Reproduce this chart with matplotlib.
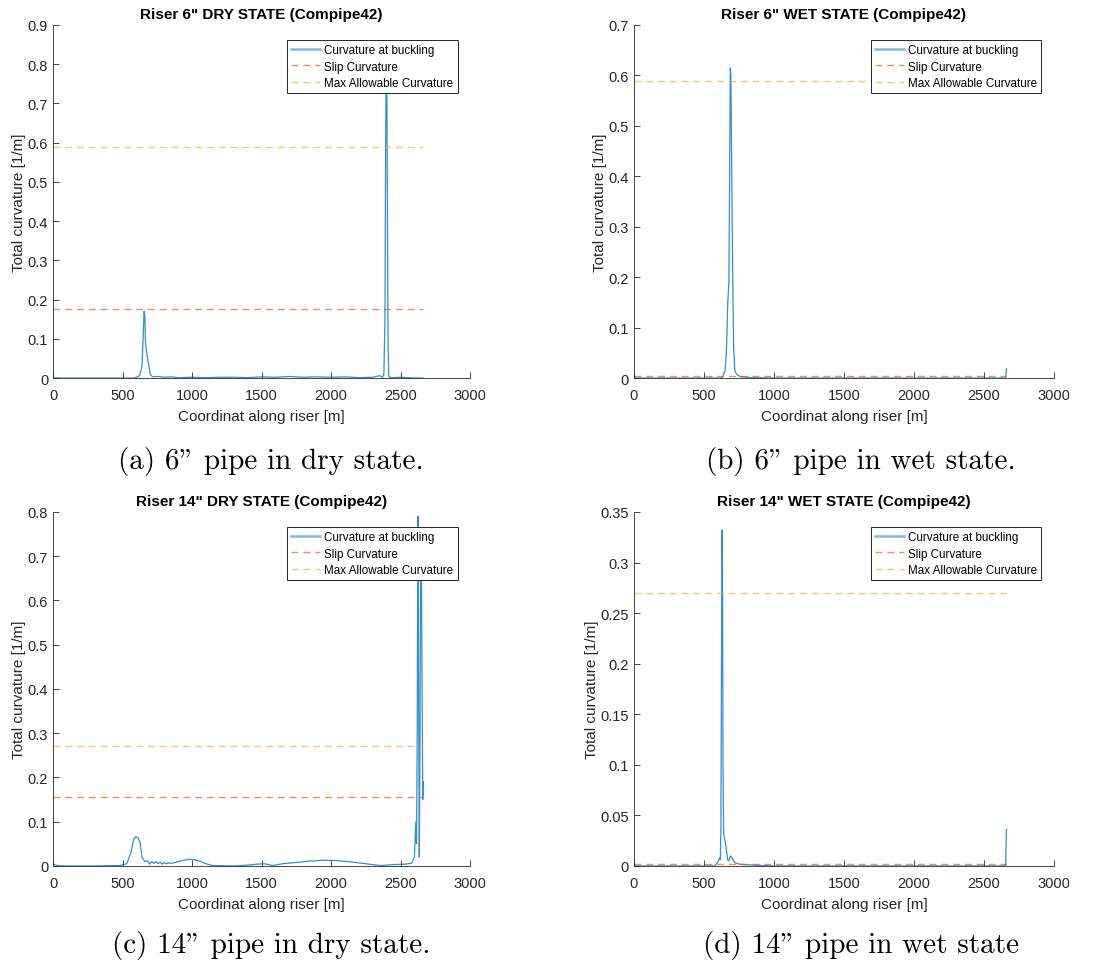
import matplotlib
matplotlib.use("Agg")
import matplotlib.pyplot as plt
from matplotlib.ticker import FuncFormatter

plt.rcParams['font.family'] = ['Liberation Sans', 'DejaVu Sans']

legend_labels = ['Curvature at buckling', 'Slip Curvature', 'Max Allowable Curvature']
xlabel = 'Coordinat along riser [m]'
ylabel = 'Total curvature [1/m]'
riser_end = 2660

# (a) 6" dry
title_a = 'Riser 6" DRY STATE (Compipe42)'
x_a = [0, 580, 610, 625, 640, 648, 655, 660, 665, 672, 680, 690, 700, 710, 720, 760, 800,
       850, 900, 1000, 1100, 1200, 1300, 1400, 1500, 1600, 1700, 1800, 1900, 2000, 2100,
       2200, 2300, 2350, 2370, 2380, 2388, 2393, 2397, 2400, 2405, 2410, 2415, 2420, 2450,
       2500, 2560, 2600, 2660]
y_a = [0, 0, 0.003, 0.008, 0.03, 0.10, 0.17, 0.16, 0.09, 0.07, 0.05, 0.03, 0.01, 0.005,
       0.003, 0.004, 0.002, 0.003, 0.001, 0.002, 0.001, 0.002, 0.002, 0.001, 0.003, 0.002,
       0.004, 0.002, 0.003, 0.002, 0.003, 0.001, 0.002, 0.006, 0.002, 0.01, 0.15, 0.6, 0.82,
       0.84, 0.5, 0.1, 0.005, 0.002, 0.001, 0.002, 0.001, 0.0, 0.0]
slip_a, max_a = 0.175, 0.588
yticks_a = [0, 0.1, 0.2, 0.3, 0.4, 0.5, 0.6, 0.7, 0.8, 0.9]

# (b) 6" wet
title_b = 'Riser 6" WET STATE (Compipe42)'
x_b = [0, 620, 635, 645, 650, 660, 670, 678, 682, 688, 692, 698, 705, 712, 720, 730, 745,
       760, 790, 830, 900, 1000, 1500, 2000, 2500, 2655, 2660, 2662]
y_b = [0, 0, 0.003, 0.012, 0.013, 0.05, 0.15, 0.19, 0.35, 0.615, 0.6, 0.42, 0.2, 0.06,
       0.015, 0.009, 0.005, 0.003, 0.002, 0.001, 0.0005, 0, 0, 0, 0, 0, 0.018, 0.018]
slip_b, max_b = 0.005, 0.588
yticks_b = [0, 0.1, 0.2, 0.3, 0.4, 0.5, 0.6, 0.7]

# (c) 14" dry
title_c = 'Riser 14" DRY STATE (Compipe42)'
x_c = [0, 10, 30, 100, 300, 480, 530, 560, 580, 595, 610, 625, 640, 660, 680, 695, 710,
       725, 740, 755, 770, 785, 800, 815, 830, 850, 870, 900, 940, 980, 1020, 1060, 1100,
       1150, 1300, 1400, 1470, 1520, 1550, 1580, 1650, 1750, 1850, 1950, 2050, 2150, 2250,
       2350, 2450, 2530, 2580, 2600, 2610, 2615, 2620, 2625, 2630, 2635, 2640, 2645, 2650,
       2655, 2660, 2663]
y_c = [0.005, 0.003, 0.001, 0, 0, 0.001, 0.005, 0.03, 0.06, 0.066, 0.064, 0.055, 0.02,
       0.01, 0.012, 0.004, 0.01, 0.006, 0.01, 0.005, 0.009, 0.004, 0.008, 0.005, 0.007,
       0.006, 0.007, 0.01, 0.013, 0.015, 0.014, 0.01, 0.005, 0.001, 0.0, 0.002, 0.004, 0.005,
       0.003, 0.001, 0.005, 0.008, 0.011, 0.013, 0.012, 0.009, 0.005, 0.001, 0.003, 0.004,
       0.006, 0.02, 0.1, 0.05, 0.3, 0.79, 0.4, 0.02, 0.3, 0.7, 0.68, 0.4, 0.15, 0.19]
slip_c, max_c = 0.155, 0.27
yticks_c = [0, 0.1, 0.2, 0.3, 0.4, 0.5, 0.6, 0.7, 0.8]

# (d) 14" wet
title_d = 'Riser 14" WET STATE (Compipe42)'
x_d = [0, 575, 600, 612, 617, 621, 625, 629, 632, 636, 640, 645, 655, 665, 672, 680, 690,
       700, 710, 725, 745, 780, 830, 900, 1000, 1500, 2000, 2500, 2655, 2660, 2662]
y_d = [0, 0, 0.004, 0.008, 0.006, 0.04, 0.2, 0.332, 0.3, 0.1, 0.033, 0.028, 0.022, 0.01,
       0.005, 0.006, 0.01, 0.008, 0.005, 0.003, 0.002, 0.0015, 0.001, 0.0005, 0, 0, 0, 0,
       0, 0.036, 0.036]
slip_d, max_d = 0.002, 0.27
yticks_d = [0, 0.05, 0.1, 0.15, 0.2, 0.25, 0.3, 0.35]

captions = ['(a) 6" pipe in dry state.', '(b) 6" pipe in wet state.',
            '(c) 14" pipe in dry state.', '(d) 14" pipe in wet state']

blue = '#0072BD'
orange = '#D95319'
yellow = '#EDB120'
grey = '#262626'

fig = plt.figure(figsize=(11.07, 9.62), dpi=100)

panels = [
    (title_a, x_a, y_a, slip_a, max_a, yticks_a, [0.0479, 0.606, 0.3767, 0.367]),
    (title_b, x_b, y_b, slip_b, max_b, yticks_b, [0.5727, 0.606, 0.3794, 0.367]),
    (title_c, x_c, y_c, slip_c, max_c, yticks_c, [0.0479, 0.0988, 0.3767, 0.368]),
    (title_d, x_d, y_d, slip_d, max_d, yticks_d, [0.5727, 0.0988, 0.3794, 0.368]),
]

for title, xs, ys, slip, mx, yt, pos in panels:
    ax = fig.add_axes(pos)
    ax.plot(xs, ys, color=blue, lw=0.9, alpha=0.8, label=legend_labels[0])
    ax.plot([0, riser_end], [slip, slip], color=orange, lw=1.0, alpha=0.65,
            dashes=(5, 3.5), label=legend_labels[1])
    ax.plot([0, riser_end], [mx, mx], color=yellow, lw=1.0, alpha=0.65,
            dashes=(5, 3.5), label=legend_labels[2])
    ax.set_xlim(0, 3000)
    ax.set_ylim(yt[0], yt[-1])
    ax.set_xticks([0, 500, 1000, 1500, 2000, 2500, 3000])
    ax.set_yticks(yt)
    ax.yaxis.set_major_formatter(FuncFormatter(lambda v, p: '%g' % round(v, 3)))
    ax.spines['top'].set_visible(False)
    ax.spines['right'].set_visible(False)
    for s in ['left', 'bottom']:
        ax.spines[s].set_color(grey)
        ax.spines[s].set_linewidth(0.6)
    ax.tick_params(direction='in', length=4, width=0.6, colors=grey, labelsize=10.5)
    ax.tick_params(axis='x', pad=7)
    ax.set_title(title, fontsize=11, fontweight='bold', color='black', pad=5)
    ax.set_xlabel(xlabel, fontsize=11, color=grey, labelpad=5)
    ax.set_ylabel(ylabel, fontsize=11, color=grey, labelpad=1)
    leg = ax.legend(loc='upper right', bbox_to_anchor=(0.97, 0.958), fontsize=8.4,
                    frameon=True, fancybox=False, framealpha=1, borderpad=0.35,
                    labelspacing=0.4, handlelength=2.5, handletextpad=0.35,
                    borderaxespad=0)
    leg.get_frame().set_edgecolor(grey)
    leg.get_frame().set_linewidth(0.7)
    leg.legend_handles[0].set_linewidth(1.8)
    leg.legend_handles[0].set_alpha(0.5)

cap_pos = [(0.245, 0.52), (0.778, 0.52), (0.245, 0.017), (0.778, 0.017)]
for (cx, cy), cap in zip(cap_pos, captions):
    fig.text(cx, cy, cap, family=['cmr10', 'DejaVu Serif'], fontsize=21,
             ha='center', va='center')

fig.savefig('out.png', dpi=100)
